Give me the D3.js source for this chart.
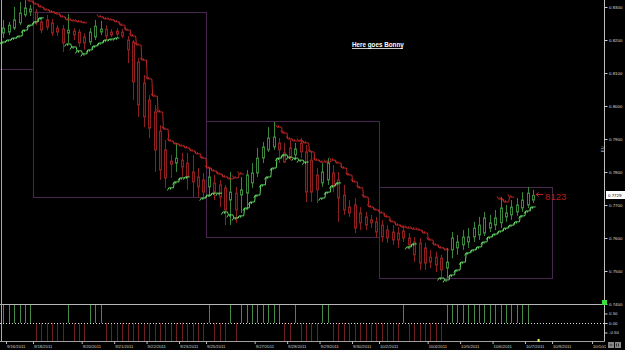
<!DOCTYPE html>
<html>
<head>
<meta charset="utf-8">
<script src="https://cdn.jsdelivr.net/npm/d3@7"></script>
<style>
  html, body { margin: 0; padding: 0; background: #000; }
  svg { display: block; font-family: Arial, "Liberation Sans", sans-serif; }
</style>
</head>
<body>
<svg width="625" height="350"></svg>
<script>
// 4-hour candles: [open, high, low, close]
const candles = [
  [.8221,.8261,.8206,.8236],[.8224,.8255,.8215,.8245],[.8236,.8300,.8230,.8261],[.8252,.8315,.8245,.8282],
  [.8276,.8321,.8270,.8297],[.8285,.8306,.8273,.8294],[.8285,.8294,.8245,.8255],[.8255,.8270,.8221,.8230],
  [.8261,.8276,.8230,.8239],[.8252,.8264,.8212,.8221],[.8236,.8245,.8212,.8224],[.8233,.8245,.8164,.8191],
  [.8221,.8279,.8191,.8230],[.8227,.8236,.8200,.8215],[.8224,.8233,.8179,.8191],[.8209,.8221,.8170,.8191],
  [.8194,.8236,.8185,.8224],[.8209,.8261,.8200,.8242],[.8224,.8258,.8215,.8233],[.8233,.8245,.8200,.8212],
  [.8224,.8233,.8209,.8215],[.8227,.8236,.8206,.8218],[.8224,.8233,.8206,.8212],[.8200,.8212,.8130,.8170],
  [.8194,.8200,.8018,.8073],[.8133,.8145,.7967,.8003],[.8070,.8094,.7936,.7967],[.8018,.8033,.7903,.7933],
  [.7982,.8003,.7800,.7867],[.7924,.7942,.7776,.7806],[.7867,.7897,.7752,.7782],[.7833,.7852,.7782,.7824],
  [.7827,.7888,.7800,.7842],[.7836,.7858,.7785,.7815],[.7827,.7858,.7746,.7785],[.7800,.7852,.7724,.7770],
  [.7785,.7812,.7724,.7755],[.7776,.7797,.7724,.7739],[.7755,.7815,.7724,.7785],[.7767,.7791,.7715,.7739],
  [.7761,.7776,.7694,.7724],[.7752,.7761,.7639,.7685],[.7715,.7800,.7639,.7739],[.7736,.7755,.7646,.7685],
  [.7730,.7785,.7676,.7746],[.7736,.7806,.7685,.7791],[.7767,.7827,.7752,.7797],[.7797,.7873,.7785,.7842],
  [.7842,.7891,.7827,.7876],[.7867,.7936,.7861,.7903],[.7876,.7952,.7867,.7906],[.7888,.7903,.7827,.7867],
  [.7858,.7888,.7827,.7830],[.7873,.7897,.7836,.7845],[.7852,.7888,.7836,.7870],[.7888,.7903,.7842,.7861],
  [.7861,.7882,.7709,.7739],[.7836,.7861,.7709,.7739],[.7791,.7812,.7706,.7746],[.7767,.7827,.7755,.7800],
  [.7776,.7842,.7761,.7827],[.7797,.7821,.7739,.7755],[.7776,.7800,.7649,.7721],[.7730,.7761,.7670,.7685],
  [.7694,.7715,.7664,.7676],[.7700,.7721,.7615,.7630],[.7676,.7694,.7624,.7646],[.7664,.7679,.7624,.7639],
  [.7655,.7670,.7630,.7646],[.7649,.7664,.7603,.7618],[.7639,.7655,.7588,.7603],[.7624,.7639,.7585,.7600],
  [.7618,.7639,.7579,.7594],[.7615,.7633,.7570,.7594],[.7621,.7636,.7588,.7600],[.7600,.7615,.7564,.7579],
  [.7588,.7603,.7527,.7549],[.7585,.7600,.7503,.7524],[.7570,.7585,.7503,.7524],[.7542,.7564,.7509,.7527],
  [.7542,.7558,.7497,.7518],[.7539,.7549,.7482,.7503],[.7509,.7570,.7479,.7527],[.7564,.7618,.7539,.7600],
  [.7570,.7609,.7549,.7588],[.7579,.7624,.7564,.7603],[.7588,.7630,.7570,.7603],[.7603,.7649,.7588,.7630],
  [.7609,.7664,.7594,.7639],[.7615,.7679,.7606,.7661],[.7630,.7670,.7618,.7646],[.7639,.7685,.7624,.7661],
  [.7646,.7724,.7630,.7691],[.7664,.7700,.7649,.7676],[.7670,.7715,.7655,.7694],[.7679,.7721,.7667,.7700],
  [.7691,.7739,.7679,.7715],[.7700,.7755,.7691,.7736],[.7715,.7746,.7706,.7729]
];

// trailing stop runs: [first candle index, values]
const redStops = [
  [5, [.8318,.8309,.8300,.8291,.8285,.8279,.8270,.8261,.8258,.8255,.8252]],
  [18, [.8270,.8264,.8261,.8255,.8245,.8230,.8212,.8185,.8139,.8082,.8030,.7982,.7930,.7894,
        .7885,.7879,.7873,.7864,.7855,.7842,.7812,.7803,.7794,.7785,.7779,.7782,.7794]],
  [51, [.7936,.7918,.7900,.7894,.7894,.7888,.7861,.7836,.7830,.7830,.7836,.7827,.7812,.7791,.7770,.7752,
        .7724,.7694,.7685,.7676,.7664,.7649,.7639,.7633,.7630,.7627,.7624,.7615,.7594,.7579,.7570,.7564]],
  [92, [.7718,.7709,.7724]]
];
const greenStops = [
  [0, [.8194,.8200,.8206,.8212,.8230,.8245,.8255,.8267]],
  [12, [.8188,.8179,.8167,.8158,.8170,.8182,.8191,.8200,.8203,.8206]],
  [31, [.7752,.7770,.7782,.7785]],
  [37, [.7721,.7730,.7736,.7736]],
  [41, [.7679,.7670,.7661,.7667,.7691,.7709,.7730,.7761,.7785,.7812,.7842,.7852,.7845,.7842,.7836,.7830]],
  [59, [.7721,.7739,.7758,.7767]],
  [75, [.7573,.7582]],
  [81, [.7479,.7473,.7488,.7503,.7527,.7555,.7564,.7573,.7588,.7603,.7612,.7621,.7630,.7639,.7649,.7667,.7682,.7694]]
];

// lower panel signal, one per finished candle
const signal = [
  1,1,1,1,1,1, -1,-1,-1,-1,-1,-1, 1, -1,-1,-1, 1,1,1,
  -1,-1,-1,-1,-1,-1,-1,-1,-1,-1,-1,-1,-1,-1,-1,-1,-1,-1,-1,
  1, -1,-1,-1, 1, -1, 1,1,1,1,1,1,1,1, -1,-1, 1, -1,-1,-1,-1, 1,1,
  -1,-1,-1,-1,-1,-1,-1,-1,-1,-1,-1,-1,-1, 1, -1,-1,-1,-1,-1,-1,-1,
  1,1,1,1,1,1,1,1,1,1,1,1,1,1,1,1
];

// weekly ranges (candle index bounds, price high / low)
const weekStart = [-4, 5.5, 37.5, 69.5];
const weekEnd = [5.5, 37.5, 69.5, 101.5];
const weekHigh = [0.8420, 0.8285, 0.7955, 0.7755];
const weekLow = [0.8112, 0.7724, 0.7603, 0.7479];

const priceTicks = [0.83, 0.82, 0.81, 0.80, 0.79, 0.78, 0.77, 0.76, 0.75, 0.74];
const signalTicks = [0.5, 0, -0.5];
const dateIdx = [0.5, 5.5, 14.5, 20.5, 26.5, 32.5, 37.5, 46.5, 52.5, 58.5, 64.5, 69.5, 78.5, 84.5, 90.5, 96.5, 101.5, 108.9];
const dateLabels = ["9/16/2011","9/18/2011","9/20/2011","9/21/2011","9/22/2011","9/23/2011","9/25/2011",
  "9/27/2011","9/28/2011","9/29/2011","9/30/2011","10/2/2011","10/4/2011","10/5/2011","10/6/2011",
  "10/7/2011","10/9/2011","10/10/2011"];
const lastPrice = 0.7729;
const title = "Here goes Bonny";
const counter = "8123";

const svg = d3.select("svg"),
    width = +svg.attr("width"),
    height = +svg.attr("height");

const axisX = 604.5, priceBottom = 304, panelBottom = 341.5;

const x = d3.scaleLinear().domain([0, 111.3]).range([3.3, 605]);
const y = d3.scaleLinear().domain([0.74, 0.83]).range([304, 7]);
const ys = d3.scaleLinear().domain([-1, 1]).range([342, 304]);
const px = i => Math.round(x(i)) + 0.5;

svg.append("rect").attr("width", width).attr("height", height).attr("fill", "#000");

const defs = svg.append("defs");
defs.append("clipPath").attr("id", "plotClip")
  .append("rect").attr("x", 0).attr("y", 0).attr("width", axisX).attr("height", priceBottom);
defs.append("clipPath").attr("id", "dateClip")
  .append("rect").attr("x", 0).attr("y", 330).attr("width", 606).attr("height", 20);

const plot = svg.append("g").attr("clip-path", "url(#plotClip)");

// weekly boxes
plot.selectAll("rect.week")
  .data(weekHigh)
  .join("rect")
    .attr("class", "week")
    .attr("x", (d, i) => Math.round(x(weekStart[i])) + 0.5)
    .attr("y", d => Math.round(y(d)) + 0.5)
    .attr("width", (d, i) => Math.round(x(weekEnd[i]) - x(weekStart[i])))
    .attr("height", (d, i) => Math.round(y(weekLow[i]) - y(d)))
    .attr("fill", "none")
    .attr("stroke", "#48284e")
    .attr("stroke-width", 1);

// candles
const up = d => d[3] >= d[0];
const upColor = "#3a863a", downColor = "#8c2020";
plot.selectAll("line.wick")
  .data(candles)
  .join("line")
    .attr("class", "wick")
    .attr("x1", (d, i) => px(i))
    .attr("x2", (d, i) => px(i))
    .attr("y1", d => y(d[1]))
    .attr("y2", d => y(d[2]))
    .attr("stroke", d => up(d) ? upColor : downColor)
    .attr("stroke-width", 1);

plot.selectAll("rect.body")
  .data(candles)
  .join("rect")
    .attr("class", "body")
    .attr("x", (d, i) => px(i) - 1)
    .attr("width", 2)
    .attr("y", d => y(Math.max(d[0], d[3])))
    .attr("height", d => Math.max(0.6, Math.abs(y(d[0]) - y(d[3]))))
    .attr("fill", d => up(d) ? "#000" : "#2a0606")
    .attr("stroke", d => up(d) ? upColor : downColor)
    .attr("stroke-width", 1);

// stop runs drawn as stair lines with small hooks
function stairs(run) {
  const [start, vals] = run;
  let p = "";
  vals.forEach((v, k) => {
    const xi = x(start + k), yi = y(v);
    p += (k === 0 ? "M" : "L") + (xi - 2) + "," + yi + "L" + (xi + 2.6) + "," + yi;
  });
  return p;
}
function hooks(run, dir) {
  const [start, vals] = run;
  let p = "";
  vals.forEach((v, k) => {
    const xi = x(start + k), yi = y(v);
    p += "M" + (xi - 3.6) + "," + (yi - 2.6 * dir) + "L" + (xi - 2) + "," + yi;
    p += "M" + (xi - 0.5) + "," + (yi - 1.8 * dir) + "L" + (xi - 0.5) + "," + yi;
  });
  return p;
}

plot.selectAll("path.red").data(redStops).join("path")
  .attr("d", d => stairs(d) + hooks(d, 1))
  .attr("fill", "none").attr("stroke", "#cc2828").attr("stroke-width", 0.9);

plot.selectAll("path.green").data(greenStops).join("path")
  .attr("d", d => stairs(d) + hooks(d, -1))
  .attr("fill", "none").attr("stroke", "#6ae86a").attr("stroke-width", 0.9);

// counter next to the last bar
const lastI = candles.length - 1;
const arrowY = Math.round(y(lastPrice)) - 0.5;
plot.append("path")
  .attr("d", `M${x(lastI) + 10},${arrowY} L${x(lastI) + 3},${arrowY} M${x(lastI) + 5.5},${arrowY - 2} L${x(lastI) + 3},${arrowY} L${x(lastI) + 5.5},${arrowY + 2}`)
  .attr("fill", "none").attr("stroke", "#c42020").attr("stroke-width", 1);
svg.append("text")
  .attr("x", x(lastI) + 12).attr("y", arrowY + 5)
  .attr("font-size", 9.5).attr("fill", "#b81e1e")
  .text(counter);

// title
svg.append("text")
  .attr("x", 352).attr("y", 47)
  .attr("font-size", 6.3).attr("font-weight", "bold").attr("fill", "#fff")
  .text(title);
svg.append("line")
  .attr("x1", 352).attr("x2", 403).attr("y1", 48.5).attr("y2", 48.5)
  .attr("stroke", "#fff").attr("stroke-width", 0.8);

// lower panel
svg.selectAll("line.sig")
  .data(signal)
  .join("line")
    .attr("class", "sig")
    .attr("x1", (d, i) => px(i))
    .attr("x2", (d, i) => px(i))
    .attr("y1", ys(0))
    .attr("y2", d => ys(d))
    .attr("stroke", d => d > 0 ? "#468a46" : "#6c2020")
    .attr("stroke-width", 1);

svg.append("line").attr("x1", 0).attr("x2", axisX).attr("y1", 304.5).attr("y2", 304.5)
  .attr("stroke", "#b8b8b8");
svg.append("line").attr("x1", 0).attr("x2", axisX).attr("y1", 323.5).attr("y2", 323.5)
  .attr("stroke", "#dcdcdc").attr("stroke-dasharray", "1,2");
svg.append("line").attr("x1", 0).attr("x2", axisX).attr("y1", panelBottom).attr("y2", panelBottom)
  .attr("stroke", "#a0a0a0");
svg.append("line").attr("x1", 1.5).attr("x2", 1.5).attr("y1", 0).attr("y2", panelBottom)
  .attr("stroke", "#a8a8a8");
svg.append("line").attr("x1", axisX).attr("x2", axisX).attr("y1", 0).attr("y2", panelBottom)
  .attr("stroke", "#bdbdbd");

// price axis
const priceAxis = svg.append("g")
  .attr("transform", `translate(${axisX},0)`)
  .call(d3.axisRight(y).tickValues(priceTicks).tickFormat(d => d.toFixed(4)).tickSize(3).tickPadding(1.5));
priceAxis.select(".domain").remove();
priceAxis.selectAll("line").attr("stroke", "#cfcfcf");
priceAxis.selectAll("text").attr("font-size", 4.4).attr("fill", "#d8d8d8").attr("font-family", "Arial, sans-serif");

const sigAxis = svg.append("g")
  .attr("transform", `translate(${axisX},0)`)
  .call(d3.axisRight(ys).tickValues(signalTicks).tickFormat(d => d.toFixed(2)).tickSize(3).tickPadding(1.5));
sigAxis.select(".domain").remove();
sigAxis.selectAll("line").attr("stroke", "#cfcfcf");
sigAxis.selectAll("text").attr("font-size", 4.4).attr("fill", "#d8d8d8").attr("font-family", "Arial, sans-serif");

// last price tag
svg.append("rect").attr("x", 606).attr("y", Math.round(y(lastPrice)) - 4).attr("width", 19).attr("height", 8)
  .attr("fill", "#fff");
svg.append("text").attr("x", 608).attr("y", Math.round(y(lastPrice)) + 1.6)
  .attr("font-size", 4.4).attr("fill", "#000").text(lastPrice.toFixed(4));

// small symbol text on the axis
svg.append("text").attr("transform", "translate(604,152) rotate(-90)")
  .attr("font-size", 4).attr("fill", "#cfcfcf").text("EU");

// date axis
const dateAxis = svg.append("g")
  .attr("clip-path", "url(#dateClip)")
  .append("g")
  .attr("transform", `translate(0,${panelBottom})`)
  .call(d3.axisBottom(x).tickValues(dateIdx).tickFormat((d, i) => dateLabels[i]).tickSize(2.5).tickPadding(1));
dateAxis.select(".domain").remove();
dateAxis.selectAll("line").attr("stroke", "#bdbdbd");
dateAxis.selectAll("text")
  .attr("text-anchor", "start").attr("x", 0.5)
  .attr("font-size", 4.2).attr("fill", "#d0d0d0").attr("font-family", "Arial, sans-serif");

// status bits in the corners
svg.append("rect").attr("x", 602).attr("y", 300).attr("width", 5).attr("height", 5).attr("fill", "#3ce03c");
svg.append("rect").attr("x", x(lastI) + 4.5).attr("y", 339).attr("width", 2).attr("height", 3).attr("fill", "#f4f46a");
svg.append("rect").attr("x", 608).attr("y", 342).attr("width", 6).attr("height", 6).attr("fill", "#8a8a8a");
svg.append("rect").attr("x", 615).attr("y", 342).attr("width", 6).attr("height", 6).attr("fill", "#8a8a8a");
svg.append("path").attr("d", "M609.5,345 H612.5 M616.5,343.5 V346.5 M618.5,343.5 V346.5")
  .attr("stroke", "#222").attr("stroke-width", 0.8);
</script>
</body>
</html>
